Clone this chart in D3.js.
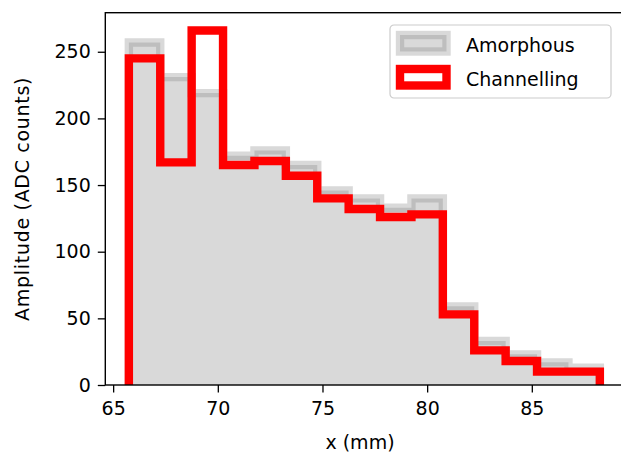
<!DOCTYPE html>
<html>
<head>
<meta charset="utf-8">
<script src="https://cdn.jsdelivr.net/npm/d3@7"></script>
<style>
  body { margin: 0; background: #fff; }
  text { font-family: "DejaVu Sans", sans-serif; fill: #000; }
</style>
</head>
<body>
<div id="chart"></div>
<script>
// histogram bin edges (mm)
let binEdges = [65.75, 67.25, 68.75, 70.25, 71.75, 73.25, 74.75, 76.25,
  77.75, 79.25, 80.75, 82.25, 83.75, 85.25, 86.75, 88.25];

// counts per bin
let amorphous = [257, 231, 219, 172, 176, 165, 146, 140, 133, 140, 59, 33, 23, 17, 13];
let channelling = [245, 167, 266, 165, 168, 157, 140, 132, 126, 128, 53, 26, 18, 10, 10];

let xTicks = [65, 70, 75, 80, 85];
let yTicks = [0, 50, 100, 150, 200, 250];
let seriesNames = ["Amorphous", "Channelling"];

let svgWidth = 621;
let svgHeight = 453;

let margin = { top: 12.7, right: -2.4, bottom: 68, left: 105.3 };
let width = svgWidth - margin.left - margin.right;
let height = svgHeight - margin.top - margin.bottom;

let svg = d3.select("#chart")
  .append("svg")
  .attr("width", svgWidth)
  .attr("height", svgHeight);

let chartGroup = svg.append("g")
  .attr("transform", `translate(${margin.left}, ${margin.top})`);

// matplotlib style 5% x margin, y from 0
let xPad = (binEdges[binEdges.length - 1] - binEdges[0]) * 0.05;
let xScale = d3.scaleLinear()
  .domain([binEdges[0] - xPad, binEdges[binEdges.length - 1] + xPad])
  .range([0, width]);

let yMax = d3.max(channelling.concat(amorphous)) * 1.05;
let yScale = d3.scaleLinear()
  .domain([0, yMax])
  .range([height, 0]);

chartGroup.append("clipPath")
  .attr("id", "clip")
  .append("rect")
  .attr("width", width)
  .attr("height", height);

// build step outline points from the bins
function stepPoints(counts) {
  let pts = [[binEdges[0], 0]];
  counts.forEach((c, i) => {
    pts.push([binEdges[i], c]);
    pts.push([binEdges[i + 1], c]);
  });
  pts.push([binEdges[binEdges.length - 1], 0]);
  return pts;
}

let line = d3.line()
  .x(d => xScale(d[0]))
  .y(d => yScale(d[1]));

let plot = chartGroup.append("g").attr("clip-path", "url(#clip)");

// amorphous: stepfilled, gray with alpha
plot.append("path")
  .attr("d", line(stepPoints(amorphous)) + "Z")
  .attr("fill", "gray")
  .attr("fill-opacity", 0.3)
  .attr("stroke", "none");

plot.append("path")
  .attr("d", line(stepPoints(amorphous)))
  .attr("fill", "none")
  .attr("stroke", "gray")
  .attr("stroke-opacity", 0.3)
  .attr("stroke-width", 8.4);

// channelling: step outline, red
plot.append("path")
  .attr("d", line(stepPoints(channelling)))
  .attr("fill", "none")
  .attr("stroke", "red")
  .attr("stroke-width", 8.4);

// axes
let bottomAxis = d3.axisBottom(xScale)
  .tickValues(xTicks)
  .tickSize(7.5)
  .tickPadding(9.5)
  .tickFormat(d3.format("d"));

let leftAxis = d3.axisLeft(yScale)
  .tickValues(yTicks)
  .tickSize(7.5)
  .tickPadding(7)
  .tickFormat(d3.format("d"));

let xAxis = chartGroup.append("g")
  .attr("transform", `translate(0, ${height})`)
  .call(bottomAxis);

let yAxis = chartGroup.append("g")
  .call(leftAxis);

[xAxis, yAxis].forEach(ax => {
  ax.select(".domain").remove();
  ax.selectAll(".tick line").attr("stroke", "#000").attr("stroke-width", 1.3);
  ax.selectAll(".tick text").style("font-size", "19px");
});

// spines (right one falls outside the picture)
chartGroup.append("rect")
  .attr("width", width)
  .attr("height", height)
  .attr("fill", "none")
  .attr("stroke", "#000")
  .attr("stroke-width", 1.4);

// axis labels
svg.append("text")
  .attr("x", 360)
  .attr("y", 449)
  .attr("text-anchor", "middle")
  .style("font-size", "19px")
  .text("x (mm)");

chartGroup.append("text")
  .attr("transform", "rotate(-90)")
  .attr("x", -height / 2)
  .attr("y", -margin.left + 28.7)
  .attr("text-anchor", "middle")
  .style("font-size", "19px")
  .style("letter-spacing", "0.7px")
  .text("Amplitude (ADC counts)");

// legend
let legend = svg.append("g").attr("transform", "translate(390, 25)");

legend.append("rect")
  .attr("width", 221)
  .attr("height", 73)
  .attr("rx", 4)
  .attr("fill", "#fff")
  .attr("fill-opacity", 0.8)
  .attr("stroke", "#ccc")
  .attr("stroke-width", 1.2);

// amorphous patch
legend.append("rect")
  .attr("x", 10)
  .attr("y", 10)
  .attr("width", 46.5)
  .attr("height", 16.5)
  .attr("fill", "gray")
  .attr("fill-opacity", 0.3)
  .attr("stroke", "gray")
  .attr("stroke-opacity", 0.3)
  .attr("stroke-width", 8.4);

// channelling patch
legend.append("rect")
  .attr("x", 10)
  .attr("y", 44)
  .attr("width", 46.5)
  .attr("height", 16.5)
  .attr("fill", "none")
  .attr("stroke", "red")
  .attr("stroke-width", 8.4);

legend.selectAll("text.leg")
  .data(seriesNames)
  .join("text")
  .attr("class", "leg")
  .attr("x", 76)
  .attr("y", (d, i) => 26.5 + i * 34)
  .style("font-size", "19px")
  .text(d => d);
</script>
</body>
</html>
